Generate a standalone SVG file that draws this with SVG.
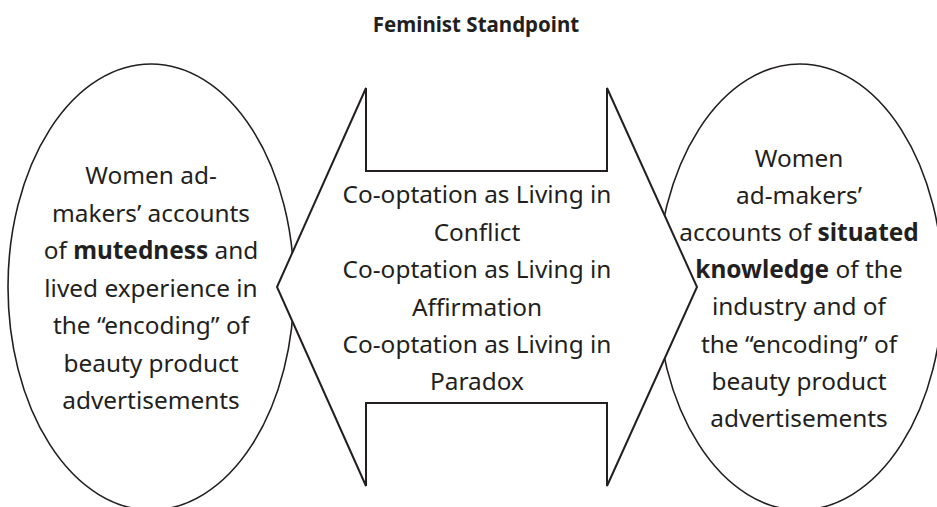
<svg xmlns="http://www.w3.org/2000/svg" width="937" height="507" viewBox="0 0 937 507">
<style>
.shape{fill:#fff;stroke:#231f20;}
.t{font-family:"Noto Sans","Open Sans",sans-serif;font-size:24.4px;fill:#231f20;text-anchor:middle;}
.b{font-weight:bold;}
.title{font-family:"Noto Sans","Open Sans",sans-serif;font-size:20.5px;font-weight:bold;fill:#231f20;text-anchor:middle;}
</style>
<rect width="937" height="507" fill="#fff"/>
<text class="title" x="476" y="31.5">Feminist Standpoint</text>
<g id="left-node">
<ellipse class="shape" cx="151" cy="287" rx="143" ry="223" stroke-width="1.6"/>
<text class="t" x="151" y="184">Women ad-</text>
<text class="t" x="151" y="221.5">makers’ accounts</text>
<text class="t" x="151" y="259">of <tspan class="b">mutedness</tspan> and</text>
<text class="t" x="151" y="296.5">lived experience in</text>
<text class="t" x="151" y="334">the “encoding” of</text>
<text class="t" x="151" y="371.5">beauty product</text>
<text class="t" x="151" y="409">advertisements</text>
</g>
<g id="right-node">
<ellipse class="shape" cx="800" cy="287" rx="143" ry="223" stroke-width="1.6"/>
<text class="t" x="799" y="167">Women</text>
<text class="t" x="799" y="204">ad-makers’</text>
<text class="t" x="799" y="241">accounts of <tspan class="b">situated</tspan></text>
<text class="t" x="799" y="278"><tspan class="b">knowledge</tspan> of the</text>
<text class="t" x="799" y="315">industry and of</text>
<text class="t" x="799" y="352.5">the “encoding” of</text>
<text class="t" x="799" y="390">beauty product</text>
<text class="t" x="799" y="427">advertisements</text>
</g>
<g id="connectors">
<polygon class="shape" stroke-width="2" stroke-linejoin="miter" points="277,287 366,88 366,171 607,171 607,88 697,287 607,486 607,403 366,403 366,486"/>
</g>
<g id="center-node">
<text class="t" x="477" y="203.3">Co-optation as Living in</text>
<text class="t" x="477" y="240.7">Conflict</text>
<text class="t" x="477" y="278">Co-optation as Living in</text>
<text class="t" x="477" y="315.5">Affirmation</text>
<text class="t" x="477" y="353">Co-optation as Living in</text>
<text class="t" x="477" y="390">Paradox</text>
</g>
</svg>
